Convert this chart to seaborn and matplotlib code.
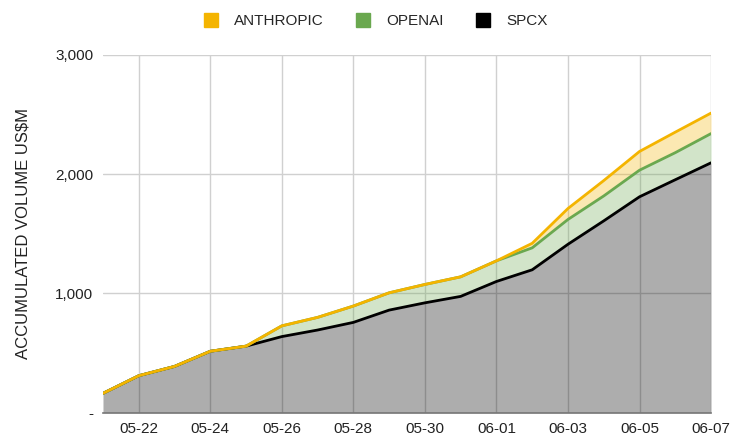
import numpy as np
import pandas as pd
import seaborn as sns
import matplotlib
matplotlib.use("Agg")
import matplotlib.pyplot as plt
import matplotlib.dates as mdates
from matplotlib.lines import Line2D
from matplotlib.ticker import FuncFormatter

# daily accumulated volume (US$M), stacked: spcx at the bottom
dates = pd.date_range("2025-05-21", "2025-06-07", freq="D")
spcx = [162, 310, 388, 515, 558, 638, 693, 757, 860, 921, 975, 1100,
        1198, 1412, 1608, 1810, 1953, 2095]
openai = [0, 0, 0, 0, 0, 90, 106, 137, 145, 154, 164, 173,
          184, 208, 209, 223, 227, 245]
anthropic = [0, 0, 0, 0, 0, 0, 0, 0, 0, 0, 0, 0,
             38, 92, 129, 157, 172, 172]

names = ["SPCX", "OPENAI", "ANTHROPIC"]
colors = {"SPCX": "#000000", "OPENAI": "#6aa84f", "ANTHROPIC": "#f4b400"}

stack = np.cumsum(np.array([spcx, openai, anthropic]), axis=0)
df = pd.DataFrame({"date": np.tile(dates, 3),
                   "value": stack.ravel(),
                   "series": np.repeat(names, len(dates))})

sns.set_theme(style="whitegrid")
plt.rcParams["font.family"] = ["Liberation Sans", "DejaVu Sans"]

fig = plt.figure(figsize=(7.43, 4.46), dpi=100)
ax = fig.add_axes([0.1386, 0.0747, 0.8184, 0.8023])

lower = np.zeros(len(dates))
for i, name in enumerate(names):
    ax.fill_between(dates, lower, stack[i], color=colors[name],
                    alpha=0.32 if name == "SPCX" else 0.3, linewidth=0, zorder=2)
    lower = stack[i]

sns.lineplot(data=df, x="date", y="value", hue="series", hue_order=names,
             palette=colors, linewidth=2, legend=False, ax=ax, zorder=3)

ax.set_xlim(dates[0], dates[-1])
ax.set_ylim(0, 3000)
ax.set_xticks(dates[1::2])
ax.xaxis.set_major_formatter(mdates.DateFormatter("%m-%d"))
ax.set_yticks([0, 1000, 2000, 3000])
ax.yaxis.set_major_formatter(FuncFormatter(lambda v, p: "-" if v == 0 else f"{v:,.0f}"))
ax.grid(True, color="#d0d0d0", linewidth=1)
ax.set_axisbelow(True)
for s in ["top", "right", "left"]:
    ax.spines[s].set_visible(False)
ax.spines["bottom"].set_color("#777777")
ax.spines["bottom"].set_linewidth(1.2)
ax.tick_params(axis="both", labelsize=11, colors="#222222", length=0, pad=7)
ax.set_xlabel("")
ax.set_ylabel("ACCUMULATED VOLUME US$M", fontsize=12, color="#222222", labelpad=18)

handles = [Line2D([], [], marker="s", linestyle="none", markersize=10,
                  color=colors[n]) for n in ["ANTHROPIC", "OPENAI", "SPCX"]]
fig.legend(handles, ["ANTHROPIC", "OPENAI", "SPCX"], loc="center",
           bbox_to_anchor=(0.5, 0.953), ncol=3, frameon=False, fontsize=11,
           handletextpad=0.5, columnspacing=1.6)

fig.savefig("out.png", dpi=100)
